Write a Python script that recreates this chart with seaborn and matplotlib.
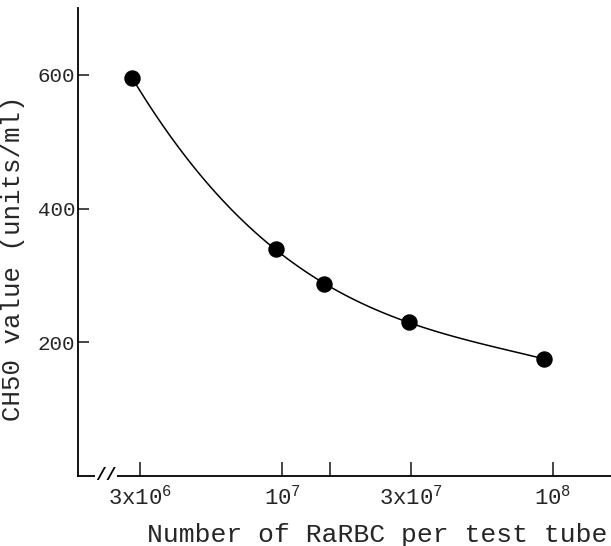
"""CH50 value vs number of RaRBC per test tube"""

import matplotlib
matplotlib.use('Agg')
import matplotlib.pyplot as plt
import seaborn as sns
import numpy as np
import pandas as pd

# Data
cells = [2.8e6, 9.5e6, 1.43e7, 2.94e7, 9.3e7]
ch50 = [595, 339, 287, 230, 175]

tick_cells = [3e6, 1e7, 1.5e7, 3e7, 1e8]
tick_labels = ['$\\mathregular{3x10^6}$', '$\\mathregular{10^7}$', '',
               '$\\mathregular{3x10^7}$', '$\\mathregular{10^8}$']
y_ticks = [200, 400, 600]

sns.set_style("ticks")
plt.rcParams['font.family'] = ['Liberation Mono', 'DejaVu Sans Mono']
plt.rcParams['mathtext.default'] = 'regular'

df = pd.DataFrame({'logx': np.log10(cells), 'ch50': ch50})

fig = plt.figure(figsize=(6.11, 5.46), dpi=100)
ax = fig.add_axes([78 / 611, 70 / 546, 533 / 611, 468 / 546])

# smooth curve: cubic fit in log-x space
sns.regplot(data=df, x='logx', y='ch50', order=3, ci=None, ax=ax,
            scatter_kws={'s': 140, 'color': 'black', 'zorder': 3,
                         'edgecolors': 'black', 'linewidths': 0, 'alpha': 1},
            line_kws={'color': 'black', 'lw': 1.1})

ax.set_xlim(6.247, 8.214)
ax.set_ylim(0, 700)

ax.set_xticks(np.log10(tick_cells))
ax.set_xticklabels(tick_labels, fontsize=16)
ax.set_yticks(y_ticks)
ax.set_yticklabels([str(v) for v in y_ticks], fontsize=15)
ax.tick_params(axis='x', direction='in', length=10, width=1.2, pad=7)
ax.tick_params(axis='y', direction='in', length=8, width=1.2, pad=2)

sns.despine(ax=ax)
for side in ['left', 'bottom']:
    ax.spines[side].set_linewidth(1.3)
    ax.spines[side].set_color('black')

# axis break mark
ax.text(6.35, 0, '//', ha='center', va='center', fontsize=13,
        fontweight='bold', color='black', clip_on=False,
        bbox=dict(facecolor='white', edgecolor='none', pad=0.3))

ax.set_xlabel('Number of RaRBC per test tube', fontsize=19)
ax.set_ylabel('CH50 value (units/ml)', fontsize=18.5)
ax.xaxis.set_label_coords(0.561, -0.10)
ax.yaxis.set_label_coords(-0.10, 0.465)

plt.savefig('out.png', dpi=100)
